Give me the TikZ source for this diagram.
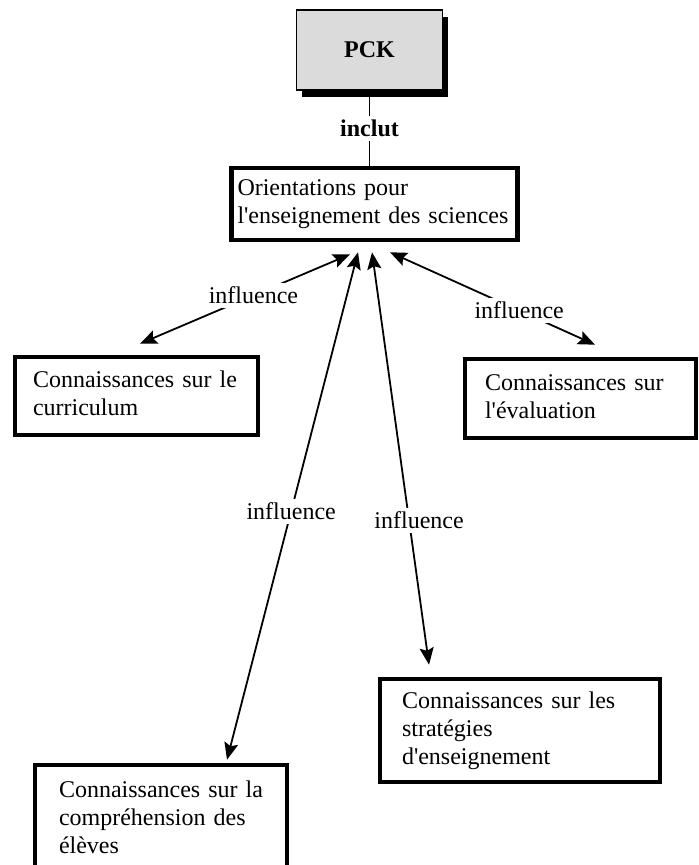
\documentclass[tikz,border=0pt]{standalone}
\usepackage{fontspec}
\setmainfont{Liberation Serif}
\usetikzlibrary{positioning}
\usetikzlibrary{arrows.meta}
\usetikzlibrary{shadows}

\begin{document}
\begin{tikzpicture}[x=0.5pt, y=-0.5pt, font=\fontsize{12}{14}\selectfont,
    kbox/.style={rectangle, draw=black, line width=2.3pt, align=left, inner ysep=0pt},
    infl/.style={<->, >={Stealth[length=8.5pt, width=7pt, inset=1.5pt]}, line width=0.9pt},
    lbl/.style={fill=white, inner sep=2pt}]
    \useasboundingbox (0,0) rectangle (698,865);
    \clip (0,0) rectangle (698,865);

    \node (pck) at (369.5,50) [rectangle, minimum width=73pt, minimum height=40pt, draw=black, line width=0.6pt, fill=gray!28,
        drop shadow={shadow xshift=2.5pt, shadow yshift=-3.5pt, fill=black, opacity=1}] {\textbf{PCK}};
    \node (orient) at (374.5,204) [kbox, text width=137pt, inner xsep=3pt, minimum height=36pt] {
        \begin{tabular}{@{}l@{}}
            Orientations pour \\
            l\textquotesingle enseignement des sciences
        \end{tabular}};
    \draw [line width=0.75pt] (pck.south) -- node[lbl] {\textbf{inclut}} (pck.south |- orient.north);

    \node (curriculum) at (136.5,396) [kbox, text width=103.5pt, inner xsep=9pt, minimum height=39pt] {
        \begin{tabular}{@{}l@{}}
            Connaissances sur le \\
            curriculum
        \end{tabular}};
    \node (eval) at (580.5,398.5) [kbox, text width=95.5pt, inner xsep=10pt, minimum height=39.5pt] {
        \begin{tabular}{@{}l@{}}
            Connaissances sur \\
            l\textquotesingle évaluation
        \end{tabular}};
    \node (strat) at (520,730.5) [kbox, text width=118pt, inner xsep=11pt, minimum height=51.5pt] {
        \begin{tabular}{@{}l@{}}
            Connaissances sur les \\
            stratégies \\
            d\textquotesingle enseignement
        \end{tabular}};
    \node (eleves) at (161,820) [kbox, text width=102pt, inner xsep=12pt, minimum height=55pt] {
        \begin{tabular}{@{}l@{}}
            Connaissances sur la \\
            compréhension des \\
            élèves
        \end{tabular}};

    \draw [infl] ([shift={(-24.5,12)}]orient.south) -- node[lbl, pos=0.46] {influence} ([shift={(3.5,-11)}]curriculum.north);
    \draw [infl] ([shift={(-16.5,10)}]orient.south) -- node[lbl, pos=0.51] {influence} ([shift={(66,-3)}]eleves.north);
    \draw [infl] ([shift={(-2.5,10)}]orient.south) -- node[lbl, pos=0.65, xshift=5pt] {influence} ([shift={(-91,-12)}]strat.north);
    \draw [infl] ([shift={(15.5,10)}]orient.south) -- node[lbl, pos=0.63] {influence} ([shift={(14.5,-12)}]eval.north);
\end{tikzpicture}
\end{document}
